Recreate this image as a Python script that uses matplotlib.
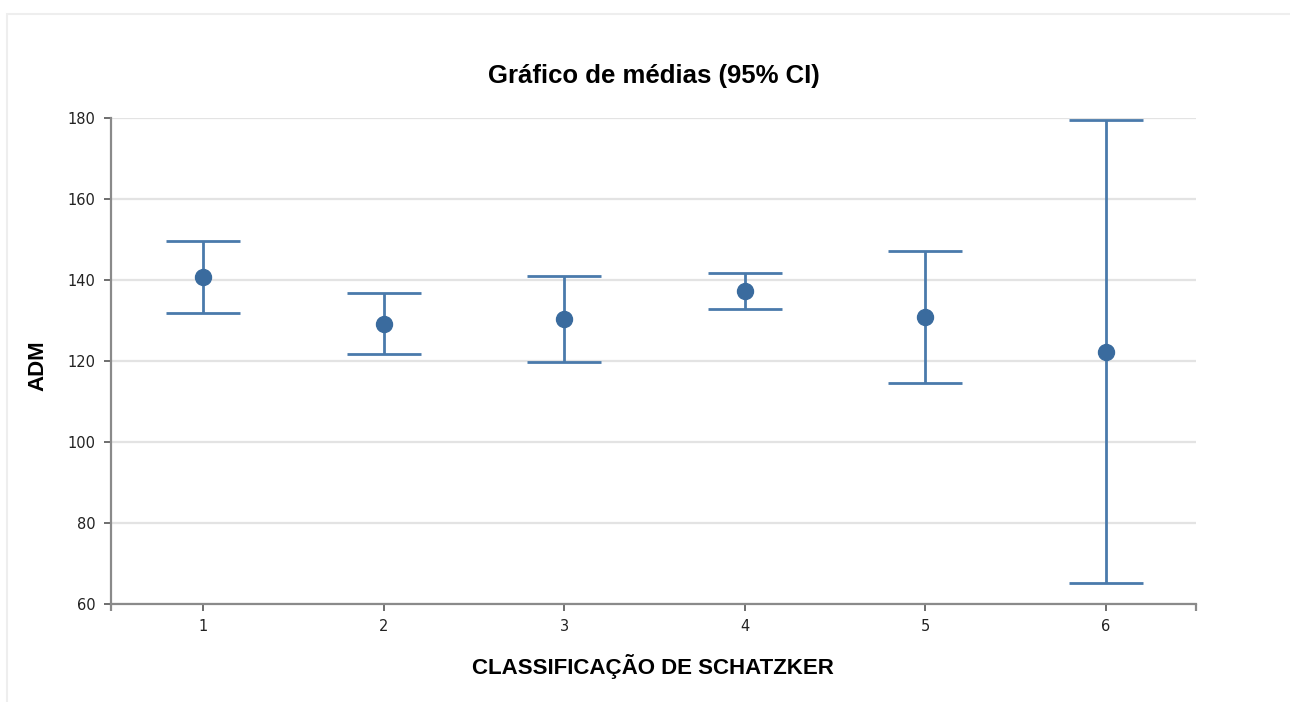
import matplotlib.pyplot as plt
from matplotlib.patches import Rectangle

plt.rcParams["font.family"] = ["DejaVu Sans"]

# Means and 95% confidence limits per Schatzker class
classes = [1, 2, 3, 4, 5, 6]
means = [140.7, 129.1, 130.4, 137.3, 130.9, 122.2]
ci_low = [131.9, 121.7, 119.8, 132.8, 114.6, 65.2]
ci_high = [149.6, 136.8, 141.0, 141.7, 147.2, 179.5]

yticks = [60, 80, 100, 120, 140, 160, 180]

LINE = "#4a7aab"
DOT = "#3a6b9e"
AXIS = "#8a8a8a"

fig = plt.figure(figsize=(12.9, 7.02), dpi=100)
fig.patches.append(Rectangle((0.0058, -0.01), 1.0, 0.99, transform=fig.transFigure,
                             fill=False, edgecolor="#eeeeee", linewidth=1.5))

ax = fig.add_axes([0.086, 0.1396, 0.841, 0.6923])

err = [[m - lo for m, lo in zip(means, ci_low)],
       [hi - m for m, hi in zip(means, ci_high)]]
ax.errorbar(classes, means, yerr=err, fmt="none", ecolor=LINE,
            elinewidth=2.0, capsize=26.5, capthick=2.0, zorder=3)
ax.plot(classes, means, "o", color=DOT, markersize=11.5, zorder=4)

ax.set_xlim(0.49, 6.5)
ax.set_ylim(60, 180)
ax.set_xticks(classes)
ax.set_xticks([0.49, 6.5], minor=True)
ax.set_yticks(yticks)

ax.grid(axis="y", color="#e3e3e3", linewidth=1.6, zorder=0)
ax.set_axisbelow(True)
for s in ["top", "right"]:
    ax.spines[s].set_visible(False)
for s in ["left", "bottom"]:
    ax.spines[s].set_color(AXIS)
    ax.spines[s].set_linewidth(1.6)

ax.tick_params(axis="both", which="both", length=5, width=1.2, color="#555555",
               labelsize=10.5, labelcolor="#222222", pad=6)
ax.tick_params(axis="x", which="minor", color=AXIS, width=1.6)

ax.set_title("Gráfico de médias (95% CI)", family="Liberation Sans", fontweight="bold",
             fontsize=18.5, pad=25)
ax.set_xlabel("CLASSIFICAÇÃO DE SCHATZKER", family="Liberation Sans", fontweight="bold",
              fontsize=16, labelpad=14)
ax.set_ylabel("ADM", family="Liberation Sans", fontweight="bold", fontsize=16)
ax.yaxis.set_label_coords(-0.058, 0.49)

fig.savefig("out.png", dpi=100)
